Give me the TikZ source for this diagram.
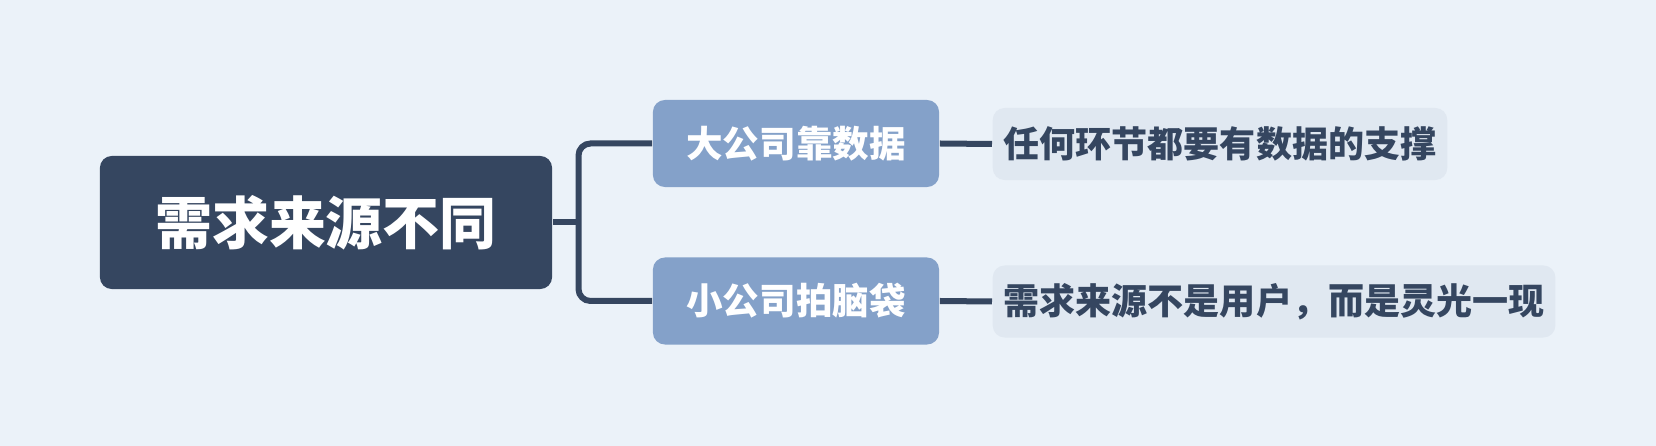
\documentclass[tikz,border=0pt]{standalone}
\usepackage{fontspec}
\newfontfamily\cjk{Noto Sans CJK SC}
\usetikzlibrary{positioning,calc}
\definecolor{cBg}{HTML}{EBF2F9}
\definecolor{cRoot}{HTML}{354660}
\definecolor{cMid}{HTML}{84A1C9}
\definecolor{cLeaf}{HTML}{E0E8F1}
\tikzset{
  box/.style={rounded corners=0.12cm, align=center, inner sep=0pt, font=\cjk\bfseries},
  rootbox/.style={box, fill=cRoot, text=white, minimum width=4.52cm, minimum height=1.33cm,
    font=\cjk\bfseries\fontsize{16.2pt}{19pt}\selectfont},
  midbox/.style={box, fill=cMid, text=white, minimum width=2.86cm, minimum height=0.87cm,
    font=\cjk\bfseries\fontsize{10.4pt}{12pt}\selectfont},
  leafbox/.style={box, fill=cLeaf, text=cRoot, inner xsep=0.11cm, minimum height=0.72cm,
    anchor=west, font=\cjk\bfseries\fontsize{10.25pt}{12pt}\selectfont},
  conn/.style={draw=cRoot, line width=0.06cm},
}
\begin{document}
\begin{tikzpicture}[x=0.01cm, y=-0.01cm]
    \fill[cBg] (0,0) rectangle (1656,446);
    \useasboundingbox (0,0) rectangle (1656,446);
    \node[rootbox] (root) at (326,222.5) {需求来源不同};
    \node[midbox]  (big)  at (796,143.5) {大公司靠数据};
    \node[midbox]  (small) at (796,301)  {小公司拍脑袋};
    \node[leafbox] (data) at (992,144)   {任何环节都要有数据的支撑};
    \node[leafbox] (idea) at (992,301.5) {需求来源不是用户，而是灵光一现};
    \coordinate (fork) at (578.5,222.5);
    \draw[conn] (root.east) -- (fork);
    \draw[conn, rounded corners=0.12cm] (big.west) -| (fork) |- (small.west);
    \draw[conn] (big.east) -- (data.west);
    \draw[conn] (small.east) -- (idea.west);
\end{tikzpicture}
\end{document}
